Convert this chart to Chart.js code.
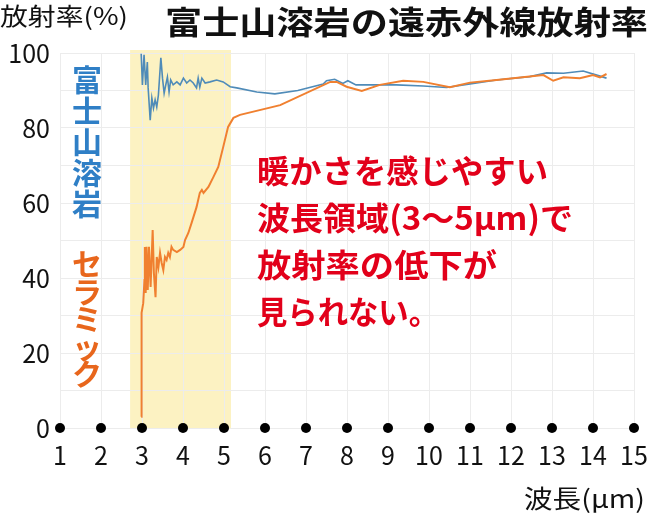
<!DOCTYPE html>
<html lang="ja">
<head>
<meta charset="utf-8">
<title>富士山溶岩の遠赤外線放射率</title>
<script src="https://cdn.jsdelivr.net/npm/chart.js@4.4.1/dist/chart.umd.min.js"></script>
<style>
  html, body { margin: 0; padding: 0; background: #fff; }
  #wrap { width: 654px; height: 517px; position: relative; }
</style>
</head>
<body>
<div id="wrap"><canvas id="chart" width="654" height="517"></canvas></div>
<script>
// 波長の目盛り (μm)
const xTicks = [1, 2, 3, 4, 5, 6, 7, 8, 9, 10, 11, 12, 13, 14, 15];
// 暖かさを感じやすい波長領域
const bandRange = [2.71, 5.17];

// 富士山溶岩
const lavaWave = [2.98, 3.01, 3.05, 3.09, 3.13, 3.15, 3.20, 3.24, 3.28, 3.32, 3.36, 3.40, 3.46, 3.50,
  3.54, 3.58, 3.62, 3.66, 3.70, 3.76, 3.85, 3.93, 4.01, 4.09, 4.17, 4.25, 4.33, 4.37, 4.41, 4.46,
  4.54, 4.66, 4.82, 4.98, 5.15, 5.31, 5.8, 6.24, 6.8, 7.42, 7.5, 7.7, 7.9, 8.02, 8.22, 8.64, 9.2,
  9.86, 10.43, 10.84, 11.65, 12.46, 12.87, 13.28, 13.76, 14.09, 14.33];
const lavaRate = [99.8, 91.5, 99.5, 91.5, 97.6, 90.7, 82.1, 88.0, 85.3, 87.5, 85.6, 88.8, 98.7, 93.3,
  89.3, 91.5, 93.6, 89.6, 92.8, 91.5, 92.3, 91.5, 93.3, 92.0, 92.8, 92.0, 90.7, 93.3, 90.9, 93.3,
  92.0, 92.3, 92.8, 92.3, 91.0, 90.7, 89.6, 89.1, 90.0, 91.7, 92.6, 93.0, 91.9, 92.6, 91.5, 91.5, 91.5,
  91.2, 90.8, 91.5, 92.8, 93.7, 94.7, 94.6, 95.2, 94.1, 93.3];

// セラミック
const ceramicWave = [2.98, 2.99, 3.03, 3.06, 3.07, 3.09, 3.11, 3.14, 3.17, 3.21, 3.26, 3.29, 3.33,
  3.36, 3.40, 3.44, 3.48, 3.52, 3.56, 3.60, 3.64, 3.68, 3.72, 3.76, 3.85, 3.93, 4.01, 4.05, 4.13,
  4.21, 4.33, 4.41, 4.46, 4.50, 4.62, 4.74, 4.86, 4.98, 5.10, 5.23, 5.39, 6.37, 7.59, 7.75, 7.99,
  8.36, 8.80, 9.37, 9.86, 10.51, 11.00, 11.65, 12.79, 13.03, 13.28, 13.68, 14.0, 14.17, 14.33];
const ceramicRate = [3.0, 30.7, 33.3, 39.5, 48.3, 36.0, 48.3, 36.8, 48.3, 37.6, 52.8, 41.3, 34.9,
  45.6, 42.9, 46.7, 44.0, 42.1, 45.6, 44.8, 46.7, 45.6, 48.3, 47.5, 46.9, 47.5, 48.3, 50.1, 52.0,
  54.7, 58.9, 62.7, 63.5, 62.7, 64.3, 66.9, 69.6, 74.9, 80.3, 82.7, 83.5, 86.1, 92.3, 92.3, 91.0,
  89.9, 91.5, 92.6, 92.3, 90.9, 92.1, 92.8, 94.1, 92.6, 93.5, 93.3, 94.1, 93.5, 94.4];

const lavaColor = '#4f8bb8';
const ceramicColor = '#f08030';
const jp = "'Noto Sans CJK JP', 'Noto Sans', sans-serif";

function toPoints(xs, ys) {
  return xs.map((x, i) => ({ x: x, y: ys[i] }));
}

// テキストを指定幅に合わせて描く
function fitText(ctx, text, x, y, font, color, width) {
  ctx.save();
  ctx.font = font;
  ctx.fillStyle = color;
  ctx.textAlign = 'left';
  ctx.textBaseline = 'middle';
  const w = ctx.measureText(text).width;
  ctx.translate(x, y);
  ctx.scale(width / w, 1);
  ctx.fillText(text, 0, 0);
  ctx.restore();
}

function verticalText(ctx, text, cx, cy, pitch, font, color) {
  ctx.save();
  ctx.font = font;
  ctx.fillStyle = color;
  ctx.textAlign = 'center';
  ctx.textBaseline = 'middle';
  [...text].forEach((ch, i) => ctx.fillText(ch, cx, cy + i * pitch));
  ctx.restore();
}

const bandPlugin = {
  id: 'band',
  beforeDraw(chart) {
    const { ctx, chartArea, scales } = chart;
    const x0 = scales.x.getPixelForValue(bandRange[0]);
    const x1 = scales.x.getPixelForValue(bandRange[1]);
    ctx.save();
    ctx.fillStyle = '#fcf2c2';
    ctx.fillRect(x0, chartArea.top - 3, x1 - x0, chartArea.bottom - chartArea.top + 3);
    ctx.restore();
  }
};

const textPlugin = {
  id: 'texts',
  afterDraw(chart) {
    const ctx = chart.ctx;
    fitText(ctx, '放射率(%)', 0, 16, `400 24px ${jp}`, '#111', 128);
    fitText(ctx, '富士山溶岩の遠赤外線放射率', 165, 22, `700 32px ${jp}`, '#111', 483);
    verticalText(ctx, '富士山溶岩', 87, 80, 31, `700 30px ${jp}`, '#2f7fc6');
    verticalText(ctx, 'セラミック', 87, 264, 27.5, `700 30px ${jp}`, '#e8661c');
    const red = '#e2001a';
    const f = `700 32px ${jp}`;
    fitText(ctx, '暖かさを感じやすい', 257, 171, f, red, 291);
    fitText(ctx, '波長領域(3〜5μm)で', 257, 218, f, red, 316);
    fitText(ctx, '放射率の低下が', 257, 265, f, red, 240);
    fitText(ctx, '見られない。', 257, 312, f, red, 182);
    fitText(ctx, '波長(μm)', 524, 498, `400 25px ${jp}`, '#111', 121);
  }
};

new Chart(document.getElementById('chart'), {
  type: 'scatter',
  data: {
    datasets: [
      {
        label: 'tick',
        data: xTicks.map(x => ({ x: x, y: 0 })),
        pointRadius: 5,
        pointBackgroundColor: '#000',
        pointBorderWidth: 0,
        showLine: false,
        clip: false
      },
      {
        label: 'セラミック',
        data: toPoints(ceramicWave, ceramicRate),
        borderColor: ceramicColor,
        borderWidth: 2,
        pointRadius: 0,
        showLine: true,
        tension: 0
      },
      {
        label: '富士山溶岩',
        data: toPoints(lavaWave, lavaRate),
        borderColor: lavaColor,
        borderWidth: 1.6,
        pointRadius: 0,
        showLine: true,
        tension: 0
      }
    ]
  },
  options: {
    responsive: false,
    animation: false,
    layout: { padding: { top: 53, right: 20, left: 0, bottom: 0 } },
    plugins: {
      legend: { display: false },
      tooltip: { enabled: false }
    },
    scales: {
      x: {
        type: 'linear',
        min: 1,
        max: 15,
        afterFit(scale) {
          scale.height = 89;
          scale.paddingLeft = 0;
          scale.paddingRight = 0;
        },
        afterBuildTicks(scale) { scale.ticks = xTicks.map(v => ({ value: v })); },
        grid: { color: '#ececec', drawTicks: false },
        border: { display: false },
        ticks: {
          padding: 12,
          color: '#111',
          font: { family: jp, size: 25 }
        }
      },
      y: {
        min: 0,
        max: 100,
        afterFit(scale) { scale.width = 60; },
        grid: { color: '#ececec', drawTicks: false },
        border: { display: false },
        ticks: {
          stepSize: 10,
          padding: 10,
          color: '#111',
          font: { family: jp, size: 25 },
          callback: v => (v % 20 === 0 ? v : '')
        }
      }
    }
  },
  plugins: [bandPlugin, textPlugin]
});
</script>
</body>
</html>
